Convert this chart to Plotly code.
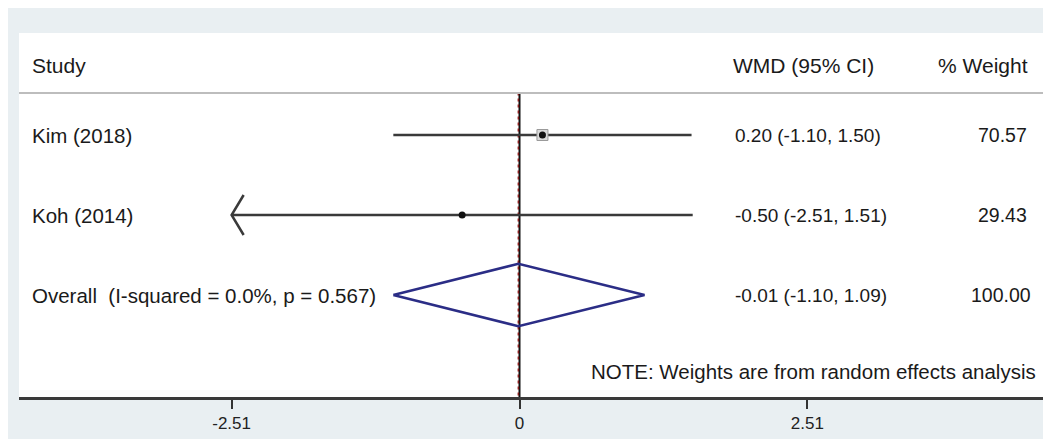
import plotly.graph_objects as go

studies = ["Kim (2018)", "Koh (2014)"]
effects = [0.20, -0.50]
ci_low = [-1.10, -2.51]
ci_high = [1.50, 1.51]
weights = ["70.57", "29.43"]
ci_text = ["0.20 (-1.10, 1.50)", "-0.50 (-2.51, 1.51)"]
overall_label = "Overall  (I-squared = 0.0%, p = 0.567)"
overall_effect = -0.01
overall_low = -1.10
overall_high = 1.09
overall_text = "-0.01 (-1.10, 1.09)"
overall_weight = "100.00"
tick_vals = [-2.51, 0, 2.51]
tick_text = ["-2.51", "0", "2.51"]
axis_min = -2.51  # left CI clipped here -> arrow
rows = [1, 2]
overall_row = 3

FONT = "Liberation Sans, Arial, sans-serif"
TXT = "#1a1a1a"

# page body has an 8px offset; plot area should sit at px x 19..1051, y 33..397
OFF = 8
L, T, R_, B_ = 19 - OFF, 33 - OFF, 1051, 397
W = 1051 - OFF
H = 439 - OFF

fig = go.Figure()

fig.add_trace(go.Scatter(x=[0, 0], y=[0.47, 4.3], mode="lines",
                         line=dict(color="#111111", width=2), hoverinfo="skip"))
fig.add_trace(go.Scatter(x=[overall_effect, overall_effect], y=[0.47, 4.3], mode="lines",
                         line=dict(color="#8b1c1c", width=1.5, dash="3px,3px"), hoverinfo="skip"))

for r, lo, hi in zip(rows, ci_low, ci_high):
    fig.add_trace(go.Scatter(x=[lo, hi], y=[r, r], mode="lines",
                             line=dict(color="#3a3a3a", width=2.5), hoverinfo="skip"))
    if lo <= axis_min:
        dx = 0.105
        fig.add_trace(go.Scatter(x=[lo + dx, lo, lo + dx], y=[r - 0.25, r, r + 0.25], mode="lines",
                                 line=dict(color="#3a3a3a", width=2.5), hoverinfo="skip"))

fig.add_trace(go.Scatter(x=[effects[0]], y=[rows[0]], mode="markers",
                         marker=dict(symbol="square", size=11, color="#d9d9d9",
                                     line=dict(color="#9a9a9a", width=1)), hoverinfo="skip"))
fig.add_trace(go.Scatter(x=effects, y=rows, mode="markers",
                         marker=dict(symbol="circle", size=7, color="#111111"), hoverinfo="skip"))

fig.add_trace(go.Scatter(x=[overall_low, overall_effect, overall_high, overall_effect, overall_low],
                         y=[overall_row, overall_row - 0.39, overall_row, overall_row + 0.39, overall_row],
                         mode="lines", line=dict(color="#2b2d86", width=2.5), hoverinfo="skip"))

fig.add_shape(type="line", xref="paper", yref="y", x0=0, x1=1, y0=0.475, y1=0.475,
              line=dict(color="#bdbdbd", width=2))

def px(p):
    return (p - 19) / (1051 - 19)

def txt(xp, y, s, anchor="left", size=20):
    fig.add_annotation(x=px(xp), y=y, xref="paper", yref="y", text=s, showarrow=False,
                       xanchor=anchor, yanchor="middle",
                       font=dict(family=FONT, size=size, color=TXT))

txt(30, 0.125, "Study", size=21)
txt(876, 0.125, "WMD (95% CI)", "right", size=21)
txt(1030, 0.125, "% Weight", "right", size=21)
for r, name, ct, w in zip(rows, studies, ci_text, weights):
    txt(30, r, name, size=20.5)
    txt(733, r, ct, size=19)
    txt(1002, r, w, "center", size=19.5)
txt(30, overall_row, overall_label, size=20.5)
txt(733, overall_row, overall_text, size=19)
txt(1001, overall_row, overall_weight, "center", size=19.5)
txt(1038, 3.96, "NOTE: Weights are from random effects analysis", "right", size=20.5)

slope = 114.7
zero_px = 519.5
fig.update_xaxes(range=[(19 - zero_px) / slope, (1051 - zero_px) / slope],
                 tickvals=tick_vals, ticktext=tick_text, ticks="outside", ticklen=9,
                 tickwidth=2, tickcolor="#333333", showline=True, linewidth=3,
                 linecolor="#3a3a3a", showgrid=False, zeroline=False,
                 tickfont=dict(family=FONT, size=17, color="#222222"), fixedrange=True)
fig.update_yaxes(range=[4.275, -0.275], visible=False, showgrid=False, zeroline=False, fixedrange=True)

fig.update_layout(width=W, height=H,
                  margin=dict(l=L, r=W - (R_ - OFF), t=T, b=H - (B_ - OFF)),
                  paper_bgcolor="#e9eff2", plot_bgcolor="#ffffff", showlegend=False)

fig.write_html("out.html", config={"displayModeBar": False})
